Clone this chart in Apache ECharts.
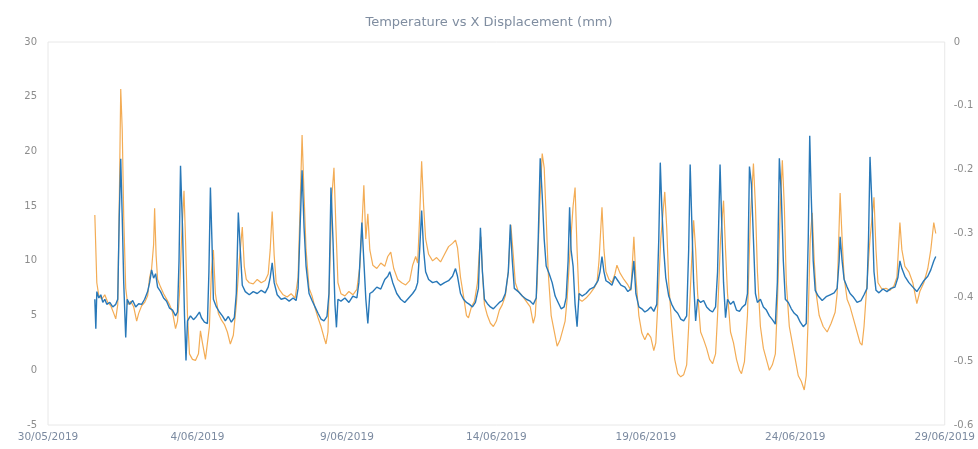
<!DOCTYPE html>
<html>
<head>
<meta charset="utf-8">
<script src="https://cdn.jsdelivr.net/npm/echarts@6/dist/echarts.min.js"></script>
<style>html,body{margin:0;padding:0;background:#fff;}#chart{width:978px;height:449px;}</style>
</head>
<body>
<div id="chart"></div>
<script>
// x values: hours since 30/05/2019 00:00
const dateLabels = ['30/05/2019','4/06/2019','9/06/2019','14/06/2019','19/06/2019','24/06/2019','29/06/2019'];
const leftTicks = [-5, 30, 5];
const rightTicks = [-0.6, 0, 0.1];

// Temperature (°C), left axis
const temperature = [
[37.6,14.2],[39.2,8.0],[40.8,6.8],[43.2,6.5],[45.6,6.9],[48.0,6.2],[50.4,5.9],[52.8,5.2],[54.4,4.7],[56.0,6.0],
[57.2,15],[58.4,25.7],[59.6,22],[60.8,14],[62.4,7.5],[64.0,6.0],[66.4,6.3],[68.8,5.8],[71.2,4.5],[72.8,5.2],
[75.2,5.9],[77.6,6.2],[80.0,6.8],[81.6,8.5],[83.2,9.3],[84.8,11.5],[85.6,14.8],[86.8,10.5],[88.0,8.3],[90.4,7.6],
[92.8,7.0],[95.2,6.5],[97.6,6.0],[100.0,5.3],[102.4,3.8],[104.0,4.5],[105.6,7],[107.2,12],[109.2,16.4],[110.4,12],
[112.0,5],[113.6,1.5],[116.0,1.0],[118.4,0.9],[120.8,1.5],[122.4,3.6],[124.0,2.5],[126.4,1.0],[128.0,0.9],[129.6,4],
[131.2,9],[132.8,11.0],[134.4,7],[136.8,5.2],[139.2,4.6],[141.6,4.2],[144.0,3.5],[146.4,2.4],[148.8,3.2],[151.2,6],
[153.6,10],[156.0,13.1],[157.6,9.5],[159.2,8.3],[161.6,8.0],[164.8,7.9],[168.0,8.3],[171.2,8.0],[174.4,8.2],[176.8,8.8],
[178.4,11],[180.0,14.5],[181.6,10.5],[183.2,8.0],[185.6,7.4],[188.8,6.9],[192.0,6.7],[195.2,7.0],[198.4,6.6],[200.8,8.5],
[202.4,15],[204.0,21.5],[205.6,16],[207.2,11],[209.6,7.5],[212.0,6.8],[214.4,5.7],[216.8,4.8],[219.2,4.0],[221.6,3.0],
[223.2,2.4],[224.8,3.5],[226.4,10],[228.0,16],[229.6,18.5],[231.2,13],[232.8,8],[235.2,7.0],[238.4,6.8],[241.6,7.2],
[244.8,6.9],[248.0,7.4],[250.4,9.5],[252.0,13],[253.6,16.9],[255.2,12],[256.8,14.3],[258.4,11],[260.8,9.6],[264.0,9.3],
[267.2,9.8],[270.4,9.5],[272.8,10.4],[275.2,10.8],[277.6,9.3],[280.8,8.3],[284.0,8.0],[287.2,7.8],[290.4,8.2],[292.8,9.6],
[295.2,10.4],[296.8,9.8],[298.4,14],[300.0,19.1],[301.6,15],[303.2,12],[305.6,10.6],[308.8,10.0],[312.0,10.3],[315.2,9.9],
[318.4,10.6],[321.6,11.3],[324.8,11.6],[327.2,11.9],[328.8,11.2],[331.2,8.5],[333.6,6.8],[336.0,5.0],[337.6,4.8],[340.0,5.8],
[342.4,6.3],[344.8,8],[346.4,11],[347.6,12.2],[348.8,9],[350.4,6.0],[352.8,5.0],[355.2,4.3],[357.6,4.0],[360.0,4.5],
[362.4,5.5],[364.8,6.0],[367.2,6.8],[369.6,9],[371.6,13.3],[373.6,10.5],[375.2,8.0],[377.6,7.2],[380.8,6.8],[384.0,6.3],
[387.2,5.8],[389.6,4.3],[391.2,5.0],[392.8,8],[394.4,14],[396.8,19.8],[398.4,18.5],[400.0,14.0],[401.6,9],[404.0,5.0],
[406.4,3.6],[408.8,2.2],[411.2,2.8],[413.6,3.8],[415.2,4.5],[416.8,6.5],[419.2,11],[421.6,15],[423.2,16.7],[424.8,11],
[426.4,6.5],[428.8,6.3],[432.0,6.6],[435.2,7.0],[438.4,7.5],[440.8,8.0],[442.4,10],[444.8,14.9],[446.4,11],[448.0,9.0],
[450.4,8.3],[452.8,8.0],[455.2,8.8],[456.8,9.6],[459.2,8.9],[462.4,8.3],[465.6,7.8],[468.0,7.3],[470.4,12.2],[472.0,8.5],
[474.4,5.0],[476.8,3.4],[479.2,2.8],[481.6,3.4],[484.0,3.0],[486.4,1.8],[488.0,2.5],[489.6,6],[492.0,12],[495.2,16.3],
[496.8,13],[498.4,8],[500.8,4],[503.2,1.0],[505.6,-0.3],[508.0,-0.6],[510.4,-0.4],[512.8,0.5],[514.4,4],[516.8,10],
[518.4,13.7],[520.0,11],[521.6,7],[524.0,3.5],[526.4,2.8],[528.8,2.0],[531.2,1.0],[533.6,0.6],[536.0,1.5],[537.6,5],
[540.0,12],[542.4,15.5],[544.0,11],[545.6,7],[548.0,3.5],[550.4,2.5],[552.8,1.0],[555.2,0.0],[556.8,-0.3],[559.2,0.8],
[561.6,5],[564.0,14],[566.4,18.9],[568.0,15],[569.6,9],[572.0,4],[574.4,2.0],[576.8,1.0],[579.2,0.0],[581.6,0.5],
[584.0,1.5],[585.6,6],[588.0,15],[589.6,19.2],[591.2,15],[592.8,8],[595.2,4],[597.6,2.5],[600.0,1.0],[602.4,-0.5],
[604.8,-1.0],[607.2,-1.8],[608.8,-0.5],[610.4,5],[612.0,12],[613.6,14.4],[615.2,10],[616.8,7],[619.2,5.0],[622.4,4.0],
[625.6,3.5],[628.8,4.3],[632.0,5.3],[633.6,7],[636.0,16.2],[637.6,12],[639.2,8.5],[641.6,6.5],[644.0,5.8],[647.2,4.5],
[649.6,3.5],[652.0,2.5],[653.6,2.3],[655.2,4],[657.6,8],[660.0,12],[663.2,15.8],[664.8,11],[666.4,8],[669.6,7.4],
[672.8,7.5],[676.0,7.3],[679.2,7.7],[681.6,8.5],[684.0,13.5],[685.6,11],[688.0,9.5],[691.2,9.0],[694.4,8.0],[697.6,6.1],
[700.0,7.2],[703.2,8.0],[706.4,9.3],[708.8,11],[711.2,13.5],[712.8,12.5]
];

// X displacement (mm), right axis
const displacement = [
[37.6,-0.403],[38.4,-0.449],[39.2,-0.391],[40.8,-0.401],[42.4,-0.396],[44.0,-0.408],[45.6,-0.403],[47.2,-0.411],[49.6,-0.408],[52.0,-0.415],
[54.4,-0.411],[56.0,-0.403],[57.2,-0.274],[58.4,-0.183],[59.6,-0.274],[60.8,-0.377],[62.4,-0.463],[63.6,-0.403],[65.6,-0.411],[68.0,-0.405],
[70.4,-0.415],[72.8,-0.410],[75.2,-0.411],[77.6,-0.403],[80.0,-0.391],[81.6,-0.377],[83.2,-0.357],[84.8,-0.370],[86.4,-0.363],[88.0,-0.384],
[90.4,-0.391],[92.8,-0.401],[95.2,-0.406],[97.6,-0.417],[100.0,-0.420],[102.4,-0.429],[104.0,-0.423],[105.2,-0.343],[106.4,-0.194],[108.0,-0.291],
[109.6,-0.429],[110.8,-0.499],[112.0,-0.437],[114.4,-0.429],[116.8,-0.435],[119.2,-0.430],[121.6,-0.423],[123.2,-0.432],[125.6,-0.439],[128.0,-0.441],
[129.2,-0.360],[130.4,-0.228],[131.6,-0.309],[132.8,-0.403],[135.2,-0.415],[137.6,-0.423],[140.0,-0.429],[142.4,-0.437],[144.8,-0.430],[147.2,-0.439],
[149.6,-0.432],[151.2,-0.394],[152.8,-0.267],[154.4,-0.326],[156.0,-0.381],[158.4,-0.391],[161.6,-0.396],[164.8,-0.391],[168.0,-0.394],[171.2,-0.389],
[174.4,-0.393],[176.8,-0.384],[178.4,-0.369],[180.0,-0.346],[181.6,-0.377],[184.0,-0.396],[187.2,-0.403],[190.4,-0.401],[193.6,-0.406],[196.8,-0.401],
[199.2,-0.405],[200.8,-0.386],[202.4,-0.291],[204.0,-0.201],[205.6,-0.291],[207.2,-0.351],[209.6,-0.394],[212.0,-0.405],[214.4,-0.415],[216.8,-0.425],
[219.2,-0.434],[221.6,-0.437],[224.0,-0.430],[225.6,-0.394],[227.2,-0.228],[228.8,-0.309],[230.4,-0.411],[231.6,-0.447],[232.8,-0.403],[235.2,-0.406],
[238.4,-0.401],[241.6,-0.408],[244.8,-0.398],[248.0,-0.401],[249.6,-0.377],[252.0,-0.283],[253.6,-0.343],[255.2,-0.403],[256.8,-0.441],[258.4,-0.394],
[260.8,-0.391],[264.0,-0.384],[267.2,-0.387],[270.4,-0.372],[272.8,-0.367],[274.4,-0.360],[276.8,-0.377],[280.0,-0.394],[283.2,-0.403],[286.4,-0.408],
[289.6,-0.401],[292.8,-0.394],[295.2,-0.387],[296.8,-0.377],[298.4,-0.326],[300.0,-0.264],[301.6,-0.326],[303.2,-0.360],[305.6,-0.372],[308.8,-0.377],
[312.0,-0.375],[315.2,-0.381],[318.4,-0.377],[321.6,-0.374],[324.8,-0.367],[327.2,-0.355],[328.8,-0.367],[331.2,-0.394],[333.6,-0.403],[336.0,-0.408],
[338.4,-0.411],[340.8,-0.415],[343.2,-0.408],[345.6,-0.386],[347.2,-0.291],[348.8,-0.360],[350.4,-0.403],[352.8,-0.410],[355.2,-0.415],[357.6,-0.418],
[360.0,-0.413],[362.4,-0.408],[364.8,-0.405],[367.2,-0.394],[369.6,-0.360],[371.2,-0.286],[372.8,-0.343],[374.4,-0.386],[377.6,-0.391],[380.8,-0.398],
[384.0,-0.403],[387.2,-0.406],[389.6,-0.411],[392.0,-0.401],[393.6,-0.309],[395.2,-0.182],[396.8,-0.240],[398.4,-0.309],[400.0,-0.351],[402.4,-0.363],
[404.8,-0.377],[407.2,-0.398],[409.6,-0.408],[412.0,-0.418],[414.4,-0.415],[416.0,-0.401],[417.6,-0.343],[418.8,-0.259],[420.0,-0.326],[421.6,-0.351],
[423.2,-0.411],[424.8,-0.446],[426.4,-0.394],[428.8,-0.398],[432.0,-0.394],[435.2,-0.387],[438.4,-0.384],[441.6,-0.374],[443.2,-0.360],[444.8,-0.336],
[446.4,-0.360],[448.0,-0.374],[450.4,-0.377],[452.8,-0.381],[455.2,-0.367],[457.6,-0.374],[460.0,-0.381],[463.2,-0.384],[465.6,-0.391],[468.0,-0.387],
[470.4,-0.343],[472.0,-0.394],[474.4,-0.415],[476.8,-0.418],[479.2,-0.423],[481.6,-0.420],[484.0,-0.415],[486.4,-0.422],[488.8,-0.411],[490.4,-0.309],
[491.6,-0.189],[492.8,-0.257],[494.4,-0.326],[496.0,-0.369],[498.4,-0.398],[500.8,-0.411],[503.2,-0.420],[505.6,-0.425],[508.0,-0.434],[510.4,-0.437],
[512.8,-0.429],[514.4,-0.326],[515.6,-0.192],[516.8,-0.274],[518.4,-0.377],[520.0,-0.437],[521.6,-0.403],[524.0,-0.408],[526.4,-0.405],[528.8,-0.415],
[531.2,-0.420],[533.6,-0.423],[536.0,-0.415],[537.6,-0.360],[539.6,-0.192],[540.8,-0.274],[542.4,-0.377],[544.0,-0.432],[545.6,-0.403],[548.0,-0.411],
[550.4,-0.406],[552.8,-0.420],[555.2,-0.422],[557.6,-0.415],[560.0,-0.411],[561.6,-0.394],[563.2,-0.195],[564.8,-0.223],[566.4,-0.309],[568.0,-0.394],
[569.6,-0.408],[572.0,-0.403],[574.4,-0.415],[576.8,-0.420],[579.2,-0.429],[581.6,-0.435],[584.0,-0.442],[585.6,-0.377],[587.2,-0.182],[588.8,-0.240],
[590.4,-0.343],[592.0,-0.403],[594.4,-0.408],[596.8,-0.418],[599.2,-0.425],[601.6,-0.429],[604.0,-0.439],[606.4,-0.446],[608.8,-0.441],[610.4,-0.309],
[611.6,-0.147],[612.8,-0.240],[614.4,-0.343],[616.0,-0.389],[618.4,-0.398],[621.6,-0.405],[624.8,-0.399],[628.0,-0.396],[631.2,-0.393],[633.6,-0.386],
[635.2,-0.343],[636.0,-0.305],[637.6,-0.343],[639.2,-0.372],[641.6,-0.384],[644.0,-0.394],[646.4,-0.399],[649.6,-0.408],[652.8,-0.405],[655.2,-0.396],
[657.6,-0.386],[658.8,-0.309],[660.0,-0.180],[661.6,-0.257],[663.2,-0.360],[664.8,-0.389],[667.2,-0.393],[670.4,-0.387],[673.6,-0.391],[676.8,-0.386],
[680.0,-0.384],[682.4,-0.369],[684.0,-0.343],[685.6,-0.355],[688.0,-0.367],[691.2,-0.377],[694.4,-0.384],[697.6,-0.391],[700.0,-0.384],[703.2,-0.374],
[706.4,-0.367],[708.8,-0.357],[711.2,-0.343],[712.8,-0.336]
];

const chart = echarts.init(document.getElementById('chart'), null, {renderer: 'canvas'});
const labelFont = 'DejaVu Sans';
chart.setOption({
  animation: false,
  backgroundColor: '#ffffff',
  title: {
    text: 'Temperature vs X Displacement (mm)',
    left: 'center', top: 11,
    textStyle: {fontFamily: labelFont, fontSize: 13, fontWeight: 'normal', color: '#7f8da0'}
  },
  grid: {left: 48, right: 30, top: 42, bottom: 24, show: true, borderColor: '#e8e8e8', borderWidth: 1, backgroundColor: 'transparent'},
  xAxis: {
    type: 'value', min: 0, max: 720, interval: 120,
    axisLine: {show: false}, axisTick: {show: false}, splitLine: {show: false},
    axisLabel: {
      margin: 7, color: '#7b8aa0', fontFamily: labelFont, fontSize: 10.5,
      showMinLabel: true, showMaxLabel: true,
      formatter: v => dateLabels[Math.round(v / 120)] || ''
    }
  },
  yAxis: [
    {
      type: 'value', min: leftTicks[0], max: leftTicks[1], interval: leftTicks[2],
      axisLine: {show: false}, axisTick: {show: false}, splitLine: {show: false},
      axisLabel: {margin: 11, color: '#8c8c8c', fontFamily: labelFont, fontSize: 10}
    },
    {
      type: 'value', min: rightTicks[0], max: rightTicks[1], interval: rightTicks[2], position: 'right',
      axisLine: {show: false}, axisTick: {show: false}, splitLine: {show: false},
      axisLabel: {margin: 9, color: '#8c8c8c', fontFamily: labelFont, fontSize: 10,
        formatter: v => { const r = Math.round(v * 10) / 10; return r === 0 ? '0' : String(r); }}
    }
  ],
  series: [
    {
      name: 'Temperature', type: 'line', yAxisIndex: 0, data: temperature,
      showSymbol: false, smooth: false,
      lineStyle: {color: '#f3ac55', width: 1.2}, itemStyle: {color: '#f3ac55'}
    },
    {
      name: 'X Displacement (mm)', type: 'line', yAxisIndex: 1, data: displacement,
      showSymbol: false, smooth: false,
      lineStyle: {color: '#2878b8', width: 1.4}, itemStyle: {color: '#2878b8'}
    }
  ]
});
</script>
</body>
</html>
